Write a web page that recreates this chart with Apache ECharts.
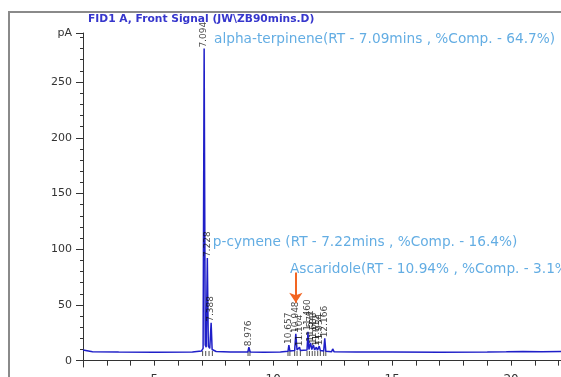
<!DOCTYPE html>
<html>
<head>
<meta charset="utf-8">
<script src="https://cdn.jsdelivr.net/npm/echarts@6/dist/echarts.min.js"></script>
<style>
  html, body { margin: 0; padding: 0; background: #fff; }
  #chart { width: 561px; height: 377px; }
</style>
</head>
<body>
<div id="chart"></div>
<script>
// FID trace: retention time (min) and signal (pA)
const traceTime = [
  2.0, 2.4, 3.5, 5.0, 6.6, 6.98, 7.05, 7.094, 7.14, 7.18, 7.228, 7.27, 7.33, 7.388, 7.43, 7.6,
  8.2, 8.93, 8.976, 9.03, 9.6, 10.3, 10.62, 10.657, 10.70, 10.90, 10.948, 11.0, 11.07, 11.104,
  11.14, 11.42, 11.46, 11.50, 11.571, 11.62, 11.688, 11.74, 11.812, 11.86, 11.934, 11.98, 12.12,
  12.166, 12.21, 12.45, 12.5, 12.56, 13.5, 15.0, 17.0, 19.0, 19.8, 20.5, 21.3, 22.1
];
const traceSignal = [
  9.6, 8.0, 7.7, 7.6, 7.7, 8.6, 11, 280, 14, 12, 92, 13, 11, 34, 10, 8.2,
  7.8, 7.8, 12, 7.8, 7.6, 7.8, 8.4, 14, 8.6, 9, 24, 9.5, 9, 12,
  9, 9.5, 26, 10, 16, 10, 14, 9.6, 12, 9.4, 13, 9, 8.6,
  20, 8.4, 7.9, 10.5, 7.9, 7.7, 7.7, 7.6, 7.7, 7.9, 8.2, 8.0, 8.1
];

// integrated peaks and their retention-time labels
const peakRT = [7.094, 7.228, 7.388, 8.976, 10.657, 10.948, 11.104, 11.460, 11.571, 11.688, 11.812, 11.934, 12.166];
const peakApex = [280, 92, 34, 12, 14, 24, 12, 26, 16, 14, 12, 13, 20];
const peakLabel = ['7.094', '7.228', '7.388', '8.976', '10.657', '10.948', '11.104', '11.460', '11.571', '11.688', '11.812', '11.934', '12.166'];

// integration start/end marks on the baseline
const peakBounds = [7.03, 7.16, 7.30, 7.44, 8.94, 9.02, 10.62, 10.70, 10.90, 11.0, 11.14, 11.42, 11.52, 11.64, 11.75, 11.87, 11.98, 12.12, 12.21];
const boundLevel = 6.5;

// compound annotations
const noteText = [
  'alpha-terpinene(RT - 7.09mins , %Comp. - 64.7%)',
  'p-cymene (RT - 7.22mins , %Comp. - 16.4%)',
  'Ascaridole(RT - 10.94% , %Comp. - 3.1%'
];
const noteRT = [7.51, 7.46, 10.70];
const noteSignal = [288, 106, 81.5];

// arrow pointing at ascaridole
const arrowRT = 10.95;
const arrowFrom = 79;
const arrowTo = 52;

// axis ticks
const yMajorTicks = [0, 50, 100, 150, 200, 250, 294];
const yMinorTicks = [10, 20, 30, 40, 60, 70, 80, 90, 110, 120, 130, 140, 160, 170, 180, 190, 210, 220, 230, 240, 260, 270, 280, 290];
const xTicks = [2, 3, 4, 5, 6, 7, 8, 9, 10, 11, 12, 13, 14, 15, 16, 17, 18, 19, 20, 21, 22];
const xLabels = [5, 10, 15, 20];

const chart = echarts.init(document.getElementById('chart'));

const axisColor = '#333';
const font = 'DejaVu Sans';

chart.setOption({
  animation: false,
  backgroundColor: '#fff',
  title: {
    text: 'FID1 A, Front Signal (JW\\ZB90mins.D)',
    left: 83,
    top: 9,
    textStyle: { fontFamily: font, fontSize: 10.7, fontWeight: 'bold', color: '#3636cc' }
  },
  graphic: [
    { type: 'line', shape: { x1: 9, y1: 12, x2: 9, y2: 377 }, style: { stroke: '#8a8a8a', lineWidth: 2 } },
    { type: 'line', shape: { x1: 8, y1: 12, x2: 561, y2: 12 }, style: { stroke: '#8a8a8a', lineWidth: 2 } }
  ],
  grid: { left: 83, right: 0, top: 33, bottom: 10, outerBoundsMode: 'none' },
  xAxis: {
    type: 'value',
    min: 2,
    max: 22.1,
    axisLine: { lineStyle: { color: axisColor } },
    axisTick: { customValues: xTicks, length: 5, lineStyle: { color: axisColor } },
    axisLabel: { customValues: xLabels, fontFamily: font, fontSize: 12, color: axisColor, margin: 7 },
    splitLine: { show: false }
  },
  yAxis: [
    {
      type: 'value',
      position: 'left',
      min: -5.7,
      max: 294,
      axisLine: { show: true, lineStyle: { color: axisColor } },
      axisTick: { show: true, customValues: yMajorTicks, length: 7, lineStyle: { color: axisColor } },
      axisLabel: {
        customValues: yMajorTicks,
        fontFamily: font,
        fontSize: 11,
        color: axisColor,
        margin: 11,
        formatter: (v) => (v > 250 ? 'pA' : String(v))
      },
      splitLine: { show: false }
    },
    {
      type: 'value',
      position: 'left',
      offset: 0,
      min: -5.7,
      max: 294,
      axisLine: { show: false },
      axisTick: { show: true, customValues: yMinorTicks, length: 3, lineStyle: { color: axisColor } },
      axisLabel: { show: false },
      splitLine: { show: false }
    }
  ],
  series: [
    {
      name: 'FID1 A',
      type: 'line',
      yAxisIndex: 0,
      data: traceTime.map((t, i) => [t, traceSignal[i]]),
      showSymbol: false,
      symbol: 'none',
      lineStyle: { color: '#1f1fc8', width: 1.5 },
      z: 3
    },
    {
      name: 'bounds',
      type: 'scatter',
      yAxisIndex: 0,
      symbol: 'rect',
      symbolSize: [1, 5],
      itemStyle: { color: '#222' },
      data: peakBounds.map((t) => [t, boundLevel]),
      z: 2
    },
    {
      name: 'peak labels',
      type: 'scatter',
      yAxisIndex: 0,
      symbolSize: 0,
      data: peakRT.map((t, i) => [t, peakApex[i], peakLabel[i]]),
      label: {
        show: true,
        position: 'top',
        distance: 1,
        rotate: 90,
        align: 'left',
        verticalAlign: 'middle',
        fontFamily: font,
        fontSize: 9,
        color: '#111',
        formatter: (p) => p.data[2]
      },
      z: 4
    },
    {
      name: 'notes',
      type: 'scatter',
      yAxisIndex: 0,
      symbolSize: 0,
      data: noteRT.map((t, i) => [t, noteSignal[i], noteText[i]]),
      label: {
        show: true,
        position: 'right',
        distance: 0,
        fontFamily: font,
        fontSize: 13.7,
        color: '#3c98dc',
        formatter: (p) => p.data[2]
      },
      markLine: {
        silent: true,
        symbol: ['none', 'arrow'],
        symbolSize: 10,
        label: { show: false },
        lineStyle: { color: '#f26522', width: 2, type: 'solid' },
        data: [[{ coord: [arrowRT, arrowFrom] }, { coord: [arrowRT, arrowTo] }]]
      },
      z: 5
    }
  ]
});
</script>
</body>
</html>
